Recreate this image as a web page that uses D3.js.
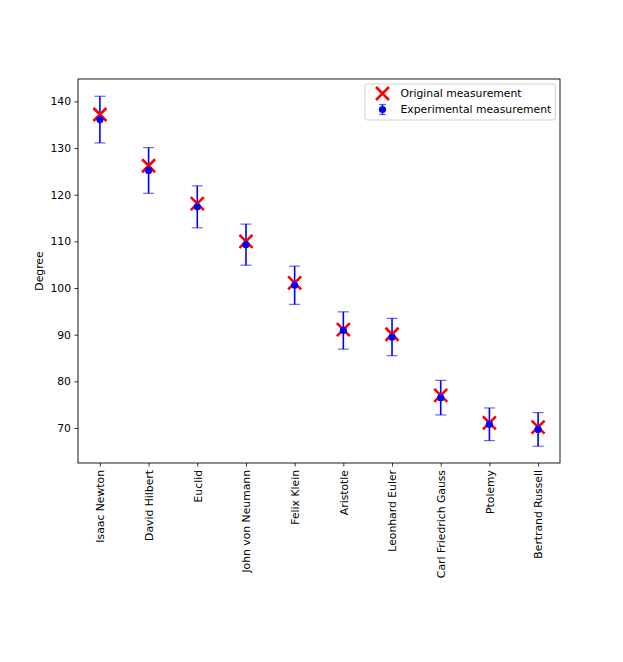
<!DOCTYPE html>
<html>
<head>
<meta charset="utf-8">
<script src="https://cdn.jsdelivr.net/npm/d3@7"></script>
<style>
body { margin: 0; background: #fff; }
svg { display: block; font-family: "DejaVu Sans", sans-serif; }
</style>
</head>
<body>
<svg id="chart" width="623" height="662"></svg>
<script>
const categories = ["Isaac Newton", "David Hilbert", "Euclid", "John von Neumann", "Felix Klein",
  "Aristotle", "Leonhard Euler", "Carl Friedrich Gauss", "Ptolemy", "Bertrand Russell"];
const originalValues = [137.2, 126.2, 118.1, 110.0, 101.1, 91.1, 90.1, 77.0, 71.1, 70.2];
const experimentalValues = [136.1, 125.2, 117.4, 109.3, 100.6, 90.9, 89.5, 76.5, 70.8, 69.7];
const errorValues = [5.0, 4.9, 4.5, 4.4, 4.1, 4.0, 4.0, 3.7, 3.5, 3.6];
const yTicks = [70, 80, 90, 100, 110, 120, 130, 140];
const yLabel = "Degree";
const legendLabels = ["Original measurement", "Experimental measurement"];

const FS = 10.8;
const svg = d3.select("#chart");
const L = 78, R = 560, T = 79, B = 463;

const x = d3.scaleLinear().domain([-0.45, categories.length - 1 + 0.45]).range([L, R]);
const y = d3.scaleLinear().domain([62.5, 144.8]).range([B, T]);

const g = svg.append("g");

// Error bars
const eb = g.append("g").selectAll("g").data(categories).join("g");
eb.append("line")
  .attr("x1", (d, i) => x(i)).attr("x2", (d, i) => x(i))
  .attr("y1", (d, i) => y(experimentalValues[i] - errorValues[i]))
  .attr("y2", (d, i) => y(experimentalValues[i] + errorValues[i]))
  .attr("stroke", "#0000ff").attr("stroke-width", 1.6);
[-1, 1].forEach(s => {
  eb.append("line")
    .attr("x1", (d, i) => x(i) - 5.5).attr("x2", (d, i) => x(i) + 5.5)
    .attr("y1", (d, i) => y(experimentalValues[i] + s * errorValues[i]))
    .attr("y2", (d, i) => y(experimentalValues[i] + s * errorValues[i]))
    .attr("stroke", "#0000ff").attr("stroke-opacity", 0.6).attr("stroke-width", 1.2);
});

// Original X markers
const xs = 6.5;
function xPath(cx, cy, s) {
  return `M${cx - s},${cy - s}L${cx + s},${cy + s}M${cx - s},${cy + s}L${cx + s},${cy - s}`;
}
g.append("g").selectAll("path").data(originalValues).join("path")
  .attr("d", (d, i) => xPath(x(i), y(d), xs))
  .attr("stroke", "#ff0000").attr("stroke-width", 2.6).attr("fill", "none");

// Experimental dots
g.append("g").selectAll("circle").data(experimentalValues).join("circle")
  .attr("cx", (d, i) => x(i)).attr("cy", d => y(d)).attr("r", 3.6)
  .attr("fill", "#0000ff");

// Axes
const yAxis = d3.axisLeft(y).tickValues(yTicks).tickSize(3.5).tickPadding(3.5);
const ya = svg.append("g").attr("transform", `translate(${L},0)`).call(yAxis);
ya.select(".domain").remove();
ya.selectAll("text").attr("font-size", FS).attr("fill", "#000").attr("font-family", "DejaVu Sans");
ya.selectAll("line").attr("stroke", "#000").attr("stroke-width", 0.8);

const xAxis = d3.axisBottom(x).tickValues(d3.range(categories.length))
  .tickFormat(i => categories[i]).tickSize(3.5).tickPadding(3.5);
const xa = svg.append("g").attr("transform", `translate(0,${B})`).call(xAxis);
xa.select(".domain").remove();
xa.selectAll("line").attr("stroke", "#000").attr("stroke-width", 0.8);
xa.selectAll("text")
  .attr("font-size", FS).attr("fill", "#000").attr("font-family", "DejaVu Sans")
  .attr("transform", "rotate(-90)")
  .attr("text-anchor", "end")
  .attr("x", -7).attr("y", 0).attr("dy", "0.35em");

// Frame
svg.append("rect").attr("x", L).attr("y", T).attr("width", R - L).attr("height", B - T)
  .attr("fill", "none").attr("stroke", "#000").attr("stroke-width", 0.9);

// Y label
svg.append("text").attr("transform", `translate(43,${(T + B) / 2}) rotate(-90)`)
  .attr("text-anchor", "middle").attr("font-size", FS).text(yLabel);

// Legend
const lg = svg.append("g");
lg.append("rect").attr("x", 365).attr("y", 84).attr("width", 190.5).attr("height", 36)
  .attr("rx", 2.5).attr("fill", "#fff").attr("fill-opacity", 0.8)
  .attr("stroke", "#cccccc").attr("stroke-width", 0.9);
lg.append("path").attr("d", xPath(382.5, 93.5, xs))
  .attr("stroke", "#ff0000").attr("stroke-width", 2.6).attr("fill", "none");
lg.append("line").attr("x1", 382.5).attr("x2", 382.5).attr("y1", 104.5).attr("y2", 114.5)
  .attr("stroke", "#0000ff").attr("stroke-width", 1.6);
[104.5, 114.5].forEach(yy => lg.append("line").attr("x1", 379).attr("x2", 386)
  .attr("y1", yy).attr("y2", yy).attr("stroke", "#0000ff").attr("stroke-opacity", 0.6).attr("stroke-width", 1.2));
lg.append("circle").attr("cx", 382.5).attr("cy", 109.5).attr("r", 3.6).attr("fill", "#0000ff");
lg.selectAll("text.lt").data(legendLabels).join("text").attr("class", "lt")
  .attr("x", 400.5).attr("y", (d, i) => 93.5 + i * 16).attr("dy", "0.35em")
  .attr("font-size", FS).text(d => d);
</script>
</body>
</html>
